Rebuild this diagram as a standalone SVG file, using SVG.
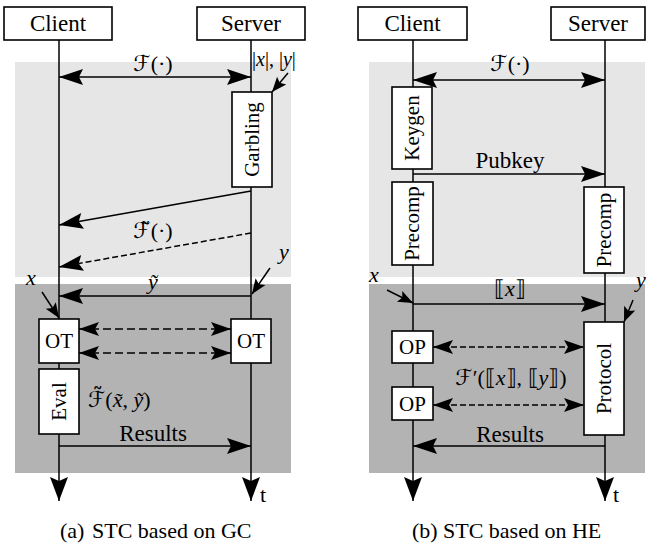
<svg xmlns="http://www.w3.org/2000/svg" width="654" height="546" viewBox="0 0 654 546" font-family="'Liberation Serif', 'Times New Roman', 'DejaVu Serif', serif">
<defs>
<style>
 text{font-family:'Liberation Serif','Times New Roman','DejaVu Serif',serif;fill:#000}
 .big{font-size:23px}
 .rot{font-size:21px}
 .cap{font-size:22px}
 .m{font-size:22px}
 .it{font-style:italic}
 .cal{font-family:'DejaVu Serif','DejaVu Sans',serif;font-style:normal;font-weight:normal}
 .box{fill:#fff;stroke:#000;stroke-width:1.6}
 .ln{fill:none;stroke:#000;stroke-width:1.5}
 .d1{stroke-dasharray:8 4}
 .d2{stroke-dasharray:6 3}
 .light{fill:#e6e6e6}
 .dark{fill:#b3b3b3}
</style>
<marker id="ah" markerUnits="userSpaceOnUse" viewBox="-25 -9 26 18" refX="0" refY="0" markerWidth="26" markerHeight="18" orient="auto-start-reverse"><path d="M0,0 L-24,-8 L-20,0 L-24,8 Z"/></marker>
<marker id="ahd" markerUnits="userSpaceOnUse" viewBox="-21 -8 22 16" refX="0" refY="0" markerWidth="22" markerHeight="16" orient="auto-start-reverse"><path d="M0,0 L-20,-7 L-16,0 L-20,7 Z"/></marker>
<marker id="ahs" markerUnits="userSpaceOnUse" viewBox="-16 -7 17 14" refX="0" refY="0" markerWidth="17" markerHeight="14" orient="auto"><path d="M0,0 L-15,-6 L-12,0 L-15,6 Z"/></marker>
<marker id="ahl" markerUnits="userSpaceOnUse" viewBox="-25 -10 26 20" refX="0" refY="0" markerWidth="26" markerHeight="20" orient="auto"><path d="M0,0 L-24,-9 L-20,0 L-24,9 Z"/></marker>
</defs>

<g id="phases">
 <rect class="light" x="15" y="62" width="276" height="215"/>
 <rect class="dark" x="15" y="284" width="276" height="189"/>
 <rect class="light" x="369" y="62" width="276" height="215"/>
 <rect class="dark" x="369" y="284" width="276" height="189"/>
</g>

<g id="lifelines">
 <line class="ln" x1="59" y1="40" x2="59" y2="501" marker-end="url(#ahl)"/>
 <line class="ln" x1="251" y1="40" x2="251" y2="501" marker-end="url(#ahl)"/>
 <line class="ln" x1="413" y1="40" x2="413" y2="501" marker-end="url(#ahl)"/>
 <line class="ln" x1="605" y1="40" x2="605" y2="501" marker-end="url(#ahl)"/>
</g>

<g id="a-client"><rect class="box" x="4" y="7" width="108" height="33"/><text class="big" x="58" y="31" text-anchor="middle" font-family="Liberation Serif">Client</text></g>
<g id="a-server"><rect class="box" x="197" y="7" width="108" height="33"/><text class="big" x="251" y="31" text-anchor="middle">Server</text></g>
<g id="a-garbling"><rect class="box" x="232" y="92" width="40" height="95"/><text class="rot" transform="translate(252,139.5) rotate(-90)" text-anchor="middle" dy="0.33em">Garbling</text></g>
<g id="a-ot-client"><rect class="box" x="39" y="319" width="40" height="44"/><text class="rot" x="59" y="348" text-anchor="middle">OT</text></g>
<g id="a-ot-server"><rect class="box" x="231" y="319" width="40" height="44"/><text class="rot" x="251" y="348" text-anchor="middle">OT</text></g>
<g id="a-eval"><rect class="box" x="39" y="369" width="40" height="65"/><text class="rot" transform="translate(59,401.5) rotate(-90)" text-anchor="middle" dy="0.33em">Eval</text></g>

<g id="b-client"><rect class="box" x="358" y="7" width="109" height="33"/><text class="big" x="412.5" y="31" text-anchor="middle">Client</text></g>
<g id="b-server"><rect class="box" x="551" y="7" width="94" height="33"/><text class="big" x="598" y="31" text-anchor="middle">Server</text></g>
<g id="b-keygen"><rect class="box" x="392" y="87" width="40" height="82"/><text class="rot" transform="translate(412,128) rotate(-90)" text-anchor="middle" dy="0.33em">Keygen</text></g>
<g id="b-precomp-client"><rect class="box" x="392" y="182" width="41" height="83"/><text class="rot" transform="translate(412.5,223.5) rotate(-90)" text-anchor="middle" dy="0.33em">Precomp</text></g>
<g id="b-precomp-server"><rect class="box" x="584" y="187" width="40" height="86"/><text class="rot" transform="translate(604,230) rotate(-90)" text-anchor="middle" dy="0.33em">Precomp</text></g>
<g id="b-protocol"><rect class="box" x="584" y="322" width="40" height="113"/><text class="rot" transform="translate(604,378.5) rotate(-90)" text-anchor="middle" dy="0.33em">Protocol</text></g>
<g id="b-op1"><rect class="box" x="392" y="331" width="41" height="32"/><text class="rot" x="412.5" y="354" text-anchor="middle">OP</text></g>
<g id="b-op2"><rect class="box" x="392" y="387" width="41" height="33"/><text class="rot" x="412.5" y="411" text-anchor="middle">OP</text></g>

<g id="connectors">
 <line class="ln" x1="59" y1="77" x2="251" y2="77" marker-start="url(#ah)" marker-end="url(#ah)"/>
 <line class="ln" x1="288" y1="73" x2="272" y2="92" marker-end="url(#ahs)"/>
 <line class="ln" x1="251" y1="191" x2="59" y2="225" marker-end="url(#ah)"/>
 <line class="ln d2" x1="251" y1="233" x2="59" y2="267" marker-end="url(#ah)"/>
 <line class="ln" x1="270" y1="268" x2="252" y2="294" marker-end="url(#ahs)"/>
 <line class="ln" x1="251" y1="296" x2="59" y2="296" marker-end="url(#ah)"/>
 <line class="ln" x1="42" y1="292" x2="59" y2="318" marker-end="url(#ahs)"/>
 <line class="ln d1" x1="79" y1="329" x2="231" y2="329" marker-start="url(#ahd)" marker-end="url(#ahd)"/>
 <line class="ln d1" x1="79" y1="353" x2="231" y2="353" marker-start="url(#ahd)" marker-end="url(#ahd)"/>
 <line class="ln" x1="59" y1="446" x2="251" y2="446" marker-end="url(#ah)"/>

 <line class="ln" x1="413" y1="80" x2="605" y2="80" marker-start="url(#ah)" marker-end="url(#ah)"/>
 <line class="ln" x1="413" y1="174" x2="605" y2="174" marker-end="url(#ah)"/>
 <line class="ln" x1="387" y1="290" x2="413" y2="303" marker-end="url(#ahs)"/>
 <line class="ln" x1="413" y1="304" x2="605" y2="304" marker-end="url(#ah)"/>
 <line class="ln" x1="633" y1="300" x2="624" y2="322" marker-end="url(#ahs)"/>
 <line class="ln d2" x1="433" y1="347" x2="584" y2="347" marker-start="url(#ahd)" marker-end="url(#ahd)"/>
 <line class="ln d2" x1="433" y1="405" x2="584" y2="405" marker-start="url(#ahd)" marker-end="url(#ahd)"/>
 <line class="ln" x1="605" y1="446" x2="413" y2="446" marker-end="url(#ah)"/>
</g>

<g id="labels">
 <text class="m" x="153" y="71" text-anchor="middle"><tspan class="cal">ℱ</tspan>(·)</text>
 <text x="252" y="66" font-size="20">|<tspan class="it">x</tspan>|, |<tspan class="it">y</tspan>|</text>
 <text class="m" x="153" y="238" text-anchor="middle"><tspan class="cal">ℱ̃</tspan>(·)</text>
 <text class="m it" x="284" y="259" text-anchor="middle">y</text>
 <text class="m it" x="31" y="285" text-anchor="middle">x</text>
 <text class="m it" x="153" y="289" text-anchor="middle">ỹ</text>
 <text class="m" x="88" y="407"><tspan class="cal">ℱ̃</tspan>(<tspan class="it">x̃</tspan>, <tspan class="it">ỹ</tspan>)</text>
 <text class="big" x="153" y="441" text-anchor="middle">Results</text>
 <text class="cap" x="260" y="502">t</text>

 <text class="m" x="510" y="71" text-anchor="middle"><tspan class="cal">ℱ</tspan>(·)</text>
 <text class="big" x="510" y="168" text-anchor="middle">Pubkey</text>
 <text class="m it" x="374" y="282" text-anchor="middle">x</text>
 <text class="m it" x="641" y="287" text-anchor="middle">y</text>
 <text class="m" x="510" y="296" text-anchor="middle">⟦<tspan class="it">x</tspan>⟧</text>
 <text class="m" x="511" y="385" text-anchor="middle"><tspan class="cal">ℱ</tspan>′(⟦<tspan class="it">x</tspan>⟧, ⟦<tspan class="it">y</tspan>⟧)</text>
 <text class="big" x="510" y="442" text-anchor="middle">Results</text>
 <text class="cap" x="613" y="502">t</text>

 <text class="cap" x="60" y="538">(a)</text>
 <text class="cap" x="92" y="538">STC based on GC</text>
 <text class="cap" x="412" y="538">(b)</text>
 <text class="cap" x="443" y="538">STC based on HE</text>
</g>
</svg>
